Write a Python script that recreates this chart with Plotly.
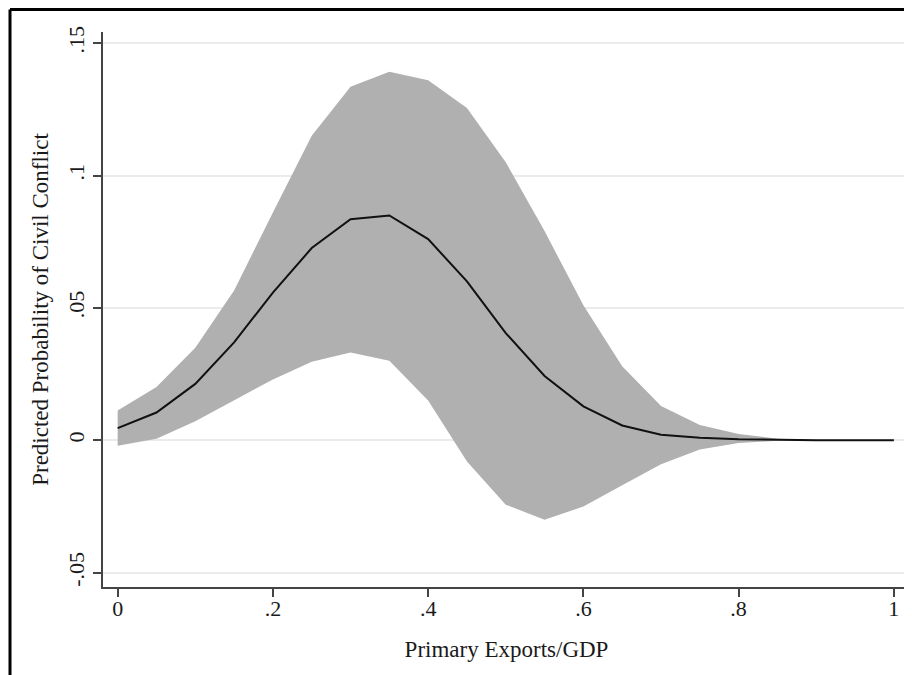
import plotly.graph_objects as go

x_vals = [0.00, 0.05, 0.10, 0.15, 0.20, 0.25, 0.30, 0.35, 0.40, 0.45, 0.50,
          0.55, 0.60, 0.65, 0.70, 0.75, 0.80, 0.85, 0.90, 0.95, 1.00]
predicted = [0.0046, 0.0105, 0.0213, 0.0370, 0.0558, 0.0726, 0.0835, 0.0849, 0.0760, 0.0600, 0.0405,
             0.0243, 0.0128, 0.0056, 0.0021, 0.0010, 0.0004, 0.0001, 0.0000, 0.0000, 0.0000]
upper_ci = [0.0113, 0.0201, 0.0350, 0.0566, 0.0860, 0.1150, 0.1335, 0.1392, 0.1360, 0.1255, 0.1050,
            0.0790, 0.0510, 0.0280, 0.0130, 0.0058, 0.0024, 0.0006, 0.0001, 0.0000, 0.0000]
lower_ci = [-0.0021, 0.0006, 0.0072, 0.0150, 0.0230, 0.0297, 0.0332, 0.0300, 0.0150, -0.0080, -0.0243,
            -0.0300, -0.0250, -0.0170, -0.0090, -0.0035, -0.0010, -0.0002, 0.0000, 0.0000, 0.0000]

x_ticks = [0, 0.2, 0.4, 0.6, 0.8, 1.0]
x_tick_labels = ["0", ".2", ".4", ".6", ".8", "1"]
y_ticks = [-0.05, 0, 0.05, 0.1, 0.15]
y_tick_labels = ["-.05", "0", ".05", ".1", ".15"]

FONT = "Liberation Serif, Times New Roman, serif"
fill_col = "rgb(176,176,176)"

# page body has an 8px margin; figure is sized/offset to compensate
W, H = 904, 667
ML, MR, MT, MB = 95, 2, 24, 88
PW, PH = W - ML - MR, H - MT - MB

fig = go.Figure()
fig.add_trace(go.Scatter(x=x_vals, y=lower_ci, mode="lines",
                         line=dict(color=fill_col, width=0), showlegend=False,
                         hoverinfo="skip"))
fig.add_trace(go.Scatter(x=x_vals, y=upper_ci, mode="lines", fill="tonexty",
                         fillcolor=fill_col, line=dict(color=fill_col, width=0),
                         showlegend=False, hoverinfo="skip"))
fig.add_trace(go.Scatter(x=x_vals, y=predicted, mode="lines",
                         line=dict(color="#111111", width=2), showlegend=False))

# outer frame (left and top edges visible)
fx0 = (2 - ML) / PW
fy0 = (MT + PH - 1.5) / PH
fig.add_shape(type="line", xref="paper", yref="paper",
              x0=fx0, x1=(W + 10 - ML) / PW, y0=fy0, y1=fy0,
              line=dict(color="black", width=3))
fig.add_shape(type="line", xref="paper", yref="paper",
              x0=fx0, x1=fx0, y0=fy0, y1=(MT + PH - H - 10) / PH,
              line=dict(color="black", width=3))

fig.update_layout(
    width=W, height=H,
    margin=dict(l=ML, r=MR, t=MT, b=MB, autoexpand=False),
    paper_bgcolor="white", plot_bgcolor="white",
    font=dict(family=FONT, size=21, color="#1a1a1a"),
    xaxis=dict(range=[-0.0189, 1.0208], tickmode="array", tickvals=x_ticks,
               ticktext=x_tick_labels, showgrid=False, zeroline=False,
               showline=True, linecolor="#444444", linewidth=1.5,
               ticks="outside", ticklen=8, tickcolor="#444444", tickwidth=1.5,
               tickfont=dict(family=FONT, size=22), automargin=False,
               ticklabelstandoff=-7,
               title=dict(text="Primary Exports/GDP", font=dict(family=FONT, size=23),
                          standoff=21)),
    yaxis=dict(range=[-0.0554, 0.1542], tickmode="array", tickvals=y_ticks,
               ticktext=y_tick_labels, showgrid=True, gridcolor="#ebebeb",
               gridwidth=1.5, zeroline=False,
               showline=True, linecolor="#444444", linewidth=1.5,
               ticks="outside", ticklen=8, tickcolor="#444444", tickwidth=1.5,
               tickangle=-90, tickfont=dict(family=FONT, size=22), automargin=False,
               title=dict(text="Predicted Probability of Civil Conflict",
                          font=dict(family=FONT, size=23), standoff=9)),
)

fig.write_html("out.html")
